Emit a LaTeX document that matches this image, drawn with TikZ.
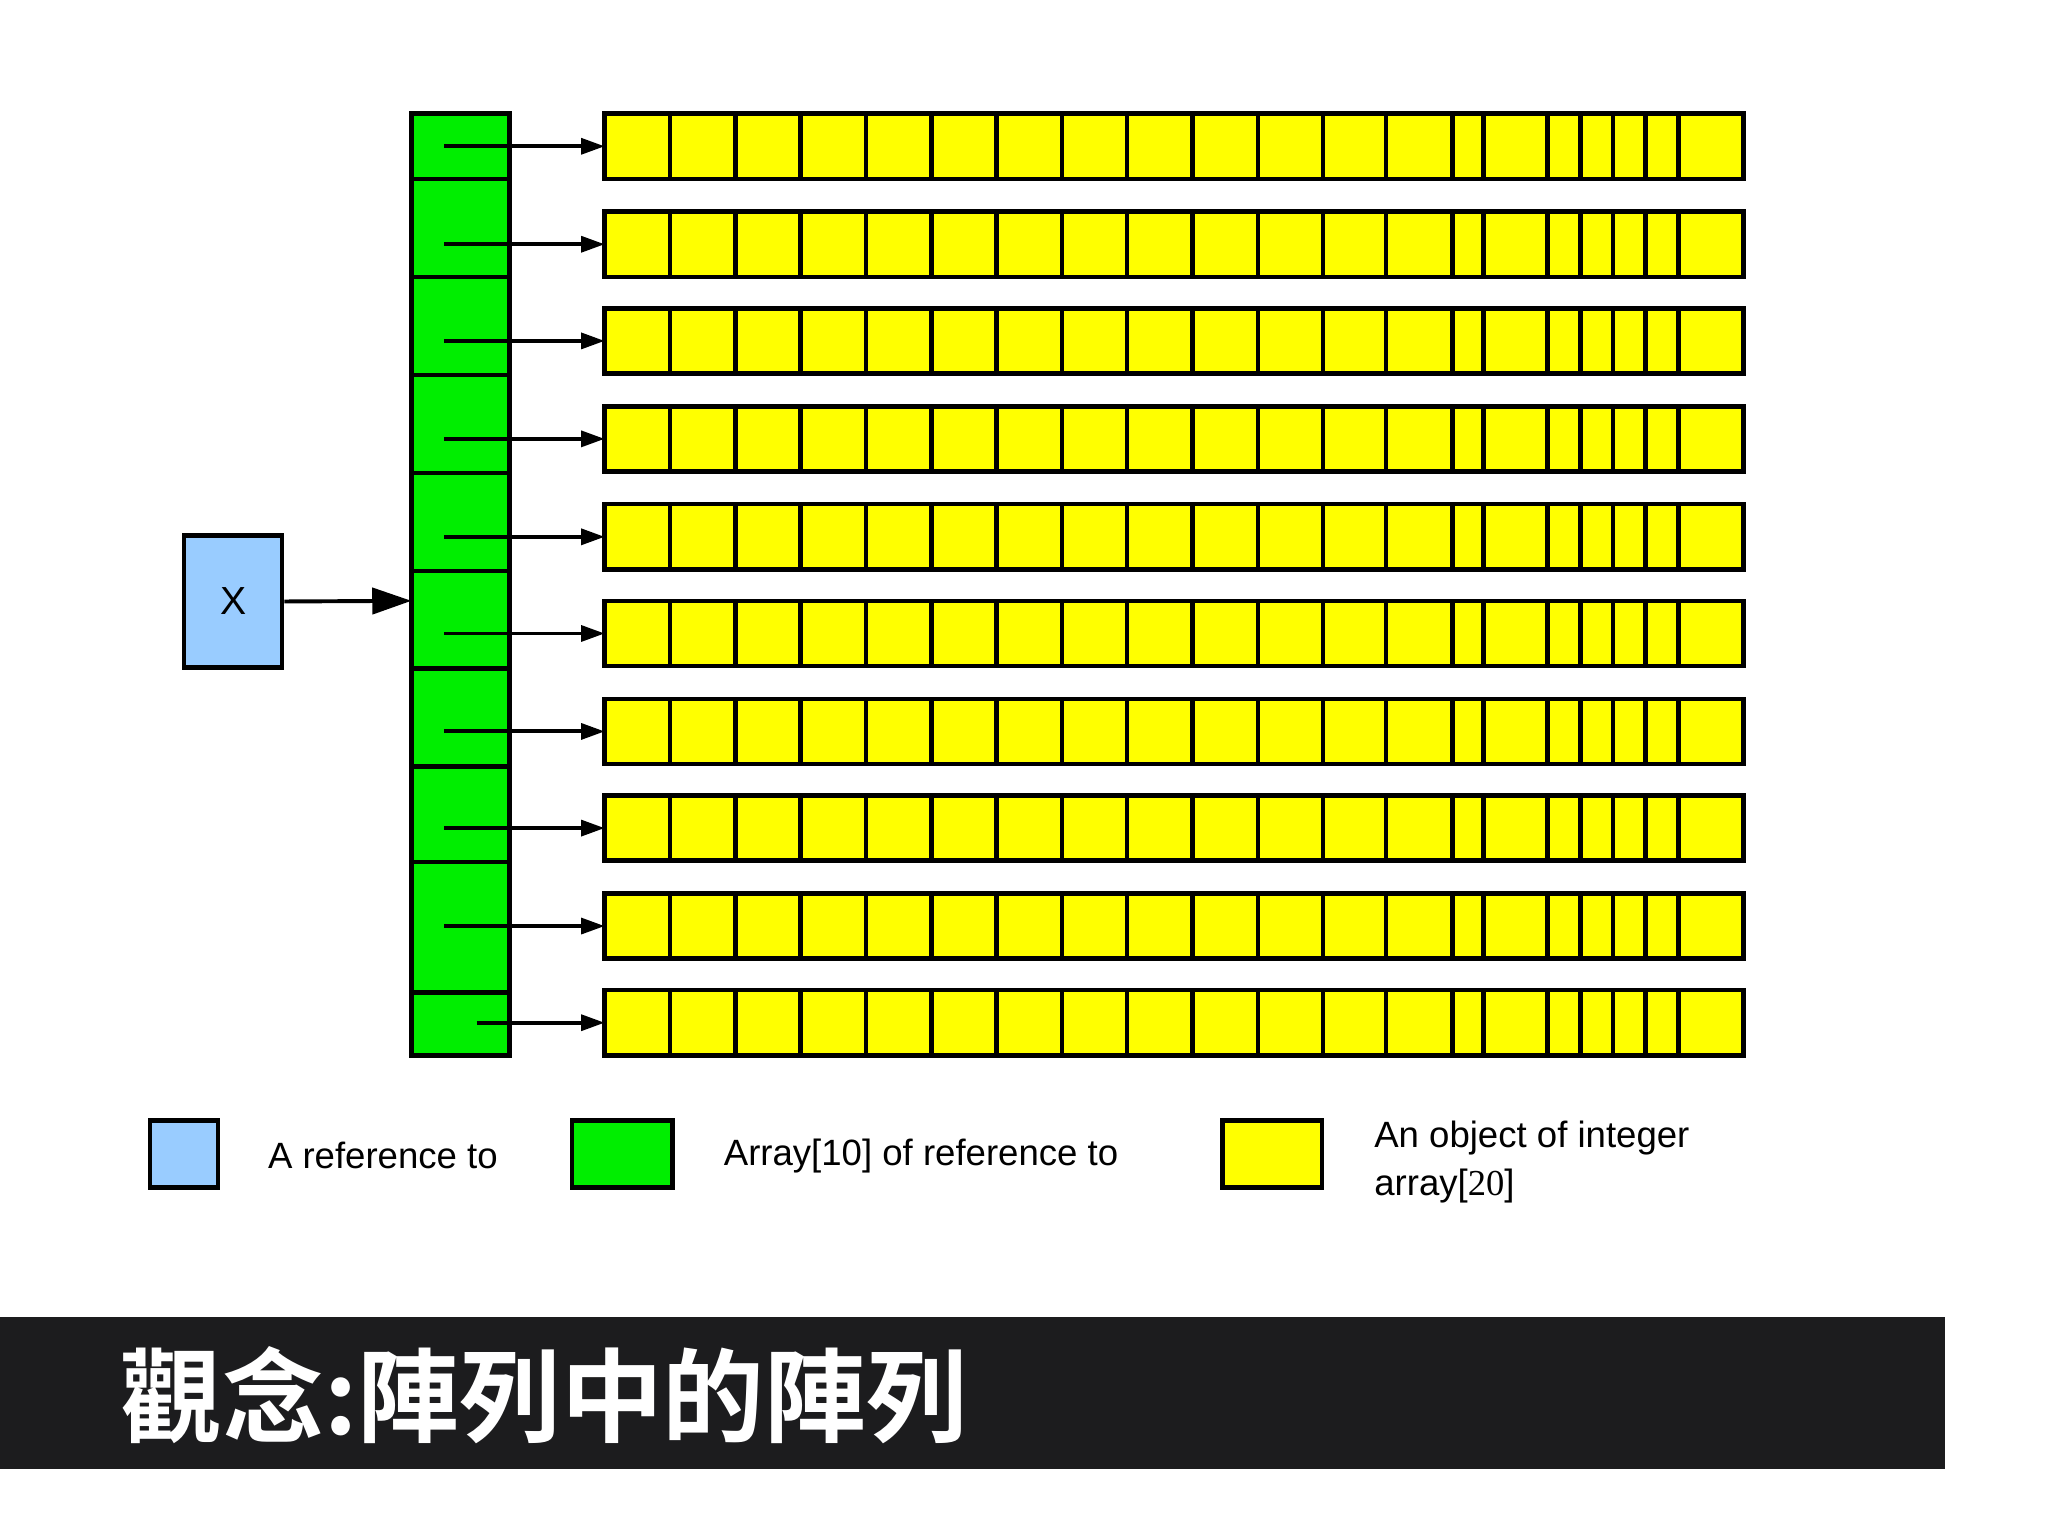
\documentclass[tikz,border=0pt]{standalone}
\usepackage{fontspec}
\setmainfont{Liberation Sans}
\newfontfamily\cjk{Noto Sans CJK TC}[BoldFont={* Bold}]
\newfontfamily\serifnum{Liberation Serif}
\usetikzlibrary{arrows.meta}
\definecolor{yel}{RGB}{255,255,0}
\definecolor{grn}{RGB}{0,238,0}
\definecolor{blu}{RGB}{153,204,255}
\definecolor{bar}{RGB}{28,28,30}
\tikzset{cell/.style={draw=black,line width=3.5pt},
 ptr/.style={line width=3pt,-{Triangle[length=18pt,width=12pt]}},
 lbl/.style={font=\fontsize{28}{32}\selectfont,anchor=west,inner sep=0}}
\begin{document}
\begin{tikzpicture}[x=1pt,y=-1pt]
\useasboundingbox (0,0) rectangle (1568,1176);
\fill[white] (0,0) rectangle (1568,1176);
% green column
\foreach \a/\b [count=\i] in {87/137,137/212,212/287,287/362,362/437,437/512,512/587,587/660,660/760,760/808}
  \draw[cell,fill=grn] (315,\a) rectangle (390,\b) coordinate (g\i);
% yellow rows
\foreach \t [count=\r] in {87,162,236,311,386,460,535,609,684,758}{
  \draw[cell,fill=yel] (463,\t) rectangle (1335,\t+50);
  \foreach \x in {513,563,613,663,713,763,813,863,913,963,1013,1061,1112,1136,1185,1210,1235,1260,1285}
    \draw[cell] (\x,\t) -- (\x,\t+50);
  \coordinate (y\r) at (463,\t+25);
  \coordinate (s\r) at (340,\t+25);
}
\coordinate (s10) at (365,783);
\foreach \r in {1,...,10} \draw[ptr] (s\r) -- (y\r);
% X
\node[cell,fill=blu,minimum width=75pt,minimum height=101pt,inner sep=0,font=\fontsize{30}{30}\selectfont] (X) at (178.5,460.5) {X};
\coordinate (gx) at (315,460);
\draw[line width=3pt,-{Triangle[length=30pt,width=20pt]}] (X.east) -- (gx);
% legend
\draw[cell,fill=blu] (115,858) rectangle (167,909);
\node[lbl] (l1) at (205,885) {A reference to};
\draw[cell,fill=grn] (438,858) rectangle (515,909);
\node[lbl] (l2) at (554,885) {Array[10] of reference to};
\draw[cell,fill=yel] (936,858) rectangle (1012,909);
\node[lbl] (l3) at (1052,871) {An object of integer};
\node[lbl] (l4) at (1052,908) {array[{\serifnum 20}]};
% title bar
\fill[bar] (0,1008) rectangle (1489,1125);
\node[anchor=west,inner sep=0,text=white,font=\cjk\bfseries\fontsize{78}{80}\selectfont] (title) at (92,1068) {觀念:陣列中的陣列};
\end{tikzpicture}
\end{document}
